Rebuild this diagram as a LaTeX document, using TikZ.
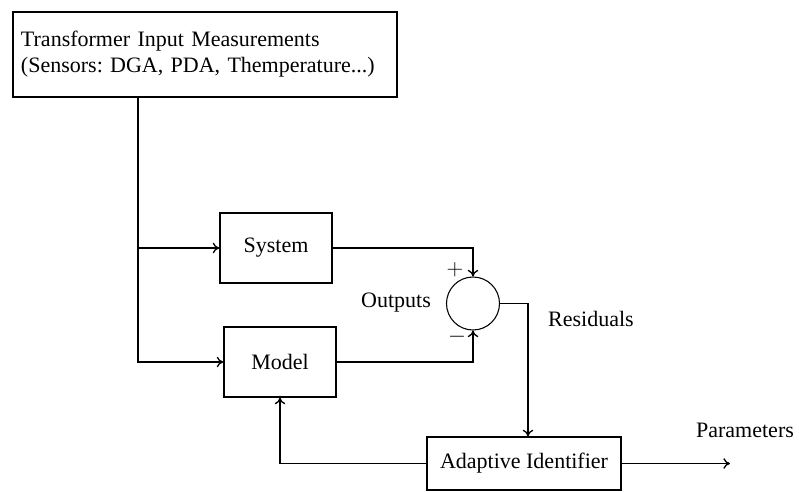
\documentclass[tikz,border=0pt]{standalone}
\usepackage{fontspec}
\setmainfont{Liberation Serif}
\usepackage{tikz}
\usetikzlibrary{arrows.meta}
\frenchspacing

\tikzset{
  block/.style={draw, line width=1pt, rectangle, inner sep=0pt},
  sumnode/.style={draw, line width=0.8pt, circle, inner sep=0pt, minimum size=39.75pt},
  wire/.style={line width=1pt},
}

\begin{document}
\begin{tikzpicture}[x=0.75pt, y=-0.75pt, >={To[length=5pt,width=8pt]},
    font=\fontsize{16.5}{19.5}\selectfont]
  \useasboundingbox (0,0) rectangle (799,492);

  % blocks
  \node[block, minimum width=288pt, minimum height=63.75pt, text width=276pt,
        align=left, inner xsep=6pt] (input) at (205,54.5)
        {Transformer Input Measurements\\(Sensors: DGA, PDA, Themperature...)};
  \node[block, minimum width=84pt, minimum height=52.5pt] (system) at (276,248) {System};
  \node[block, minimum width=84pt, minimum height=52.5pt] (model) at (280,362) {Model};
  \node[sumnode] (sum) at (473,303.5) {};
  \node[block, minimum width=145.5pt, minimum height=39.75pt] (adapt) at (524,463.5) {Adaptive Identifier};

  % labels
  \node (outputs) at (396,303) {Outputs};
  \node (plus) at (455,270) {$+$};
  \node (minus) at (457,337) {$-$};
  \node (residuals) at (591,319) {Residuals};
  \node (params) at (745,430) {Parameters};

  % connectors
  \coordinate (src) at (138,97);
  \coordinate (resid) at (528,303.5);
  \coordinate (out) at (730,463.5);
  \draw[wire, ->] (src) |- (model.west);
  \draw[wire, ->] (src |- system.west) -- (system.west);
  \draw[wire, ->] (system.east) -| (sum.north);
  \draw[wire, ->] (model.east) -| (sum.south);
  \draw[wire, ->] (sum.east) -- (resid) -- (resid |- adapt.north);
  \draw[wire, ->] (adapt.west) -| (model.south);
  \draw[wire, ->] (adapt.east) -- (out);
\end{tikzpicture}
\end{document}
